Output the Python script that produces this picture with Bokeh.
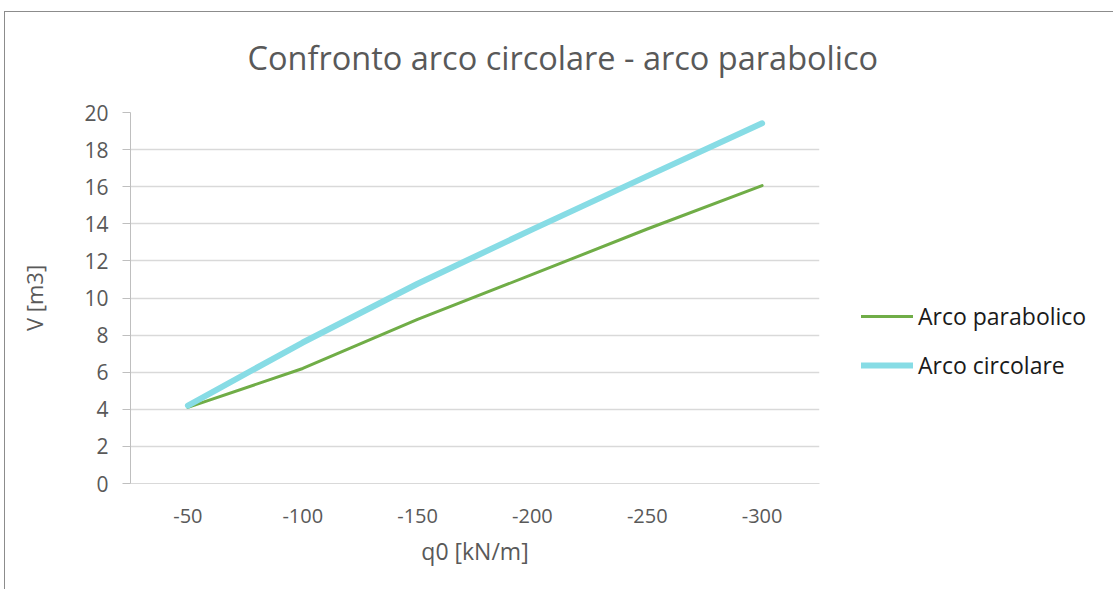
from bokeh.plotting import figure
from bokeh.models import FactorRange, Range1d, SingleIntervalTicker, Legend, LegendItem, ColumnDataSource
from bokeh.embed import file_html
from bokeh.resources import INLINE

categories = ["-50", "-100", "-150", "-200", "-250", "-300"]
arco_parabolico = [4.1, 6.2, 8.85, 11.27, 13.72, 16.06]
arco_circolare = [4.2, 7.6, 10.77, 13.7, 16.57, 19.42]

FONT = "Open Sans"
TXT = "#595959"

p = figure(
    x_range=FactorRange(*categories),
    y_range=Range1d(0, 20),
    width=1109, height=587,
    frame_width=689, frame_height=371,
    min_border_left=126, min_border_top=110, min_border_right=294, min_border_bottom=106,
    output_backend="svg", toolbar_location=None,
)
# chart-area border (top and left edges) drawn as CSS lines behind a transparent canvas
p.styles = {
    "margin-left": "4px", "margin-top": "2px",
    "background-image": "linear-gradient(#8c8c8c, #8c8c8c), linear-gradient(#8c8c8c, #8c8c8c)",
    "background-size": "100% 1px, 1px 100%",
    "background-position": "0 9px, 0 9px",
    "background-repeat": "no-repeat",
}
p.outline_line_color = None
p.background_fill_color = "white"
p.border_fill_color = None
p.border_fill_alpha = 0

p.title.text = "Confronto arco circolare - arco parabolico"
p.title.text_font = FONT
p.title.text_font_size = "32.5px"
p.title.text_font_style = "normal"
p.title.text_color = TXT
p.title.align = "left"
p.title.vertical_align = "top"
p.title.offset = 117
p.title.standoff = 62

src = ColumnDataSource(dict(x=categories, par=arco_parabolico, cir=arco_circolare))
r1 = p.line("x", "par", source=src, line_color="#70ad47", line_width=3, line_cap="round", line_join="round")
r2 = p.line("x", "cir", source=src, line_color="#87dce5", line_width=6, line_cap="round", line_join="round")

# y axis
p.yaxis.ticker = SingleIntervalTicker(interval=2)
p.yaxis.axis_line_color = "#bfbfbf"
p.yaxis.major_tick_line_color = "#bfbfbf"
p.yaxis.major_tick_out = 8
p.yaxis.major_tick_in = 0
p.yaxis.minor_tick_line_color = None
p.yaxis.major_label_text_font = FONT
p.yaxis.major_label_text_font_size = "21px"
p.yaxis.major_label_text_color = TXT
p.yaxis.major_label_standoff = 14
p.yaxis.axis_label = "V [m3]"
p.yaxis.axis_label_text_font = FONT
p.yaxis.axis_label_text_font_size = "22px"
p.yaxis.axis_label_text_font_style = "normal"
p.yaxis.axis_label_text_color = TXT
p.yaxis.axis_label_standoff = 32

# x axis
p.xaxis.axis_line_color = "#d9d9d9"
p.xaxis.major_tick_line_color = None
p.xaxis.minor_tick_line_color = None
p.xaxis.major_label_text_font = FONT
p.xaxis.major_label_text_font_size = "20px"
p.xaxis.major_label_text_color = TXT
p.xaxis.major_label_standoff = 19
p.xaxis.axis_label = "q0 [kN/m]"
p.xaxis.axis_label_text_font = FONT
p.xaxis.axis_label_text_font_size = "23px"
p.xaxis.axis_label_text_font_style = "normal"
p.xaxis.axis_label_text_color = TXT
p.xaxis.axis_label_standoff = 9

p.xgrid.grid_line_color = None
p.ygrid.grid_line_color = "#d9d9d9"
p.ygrid.grid_line_width = 1.5

legend = Legend(
    items=[LegendItem(label="Arco parabolico", renderers=[r1]),
           LegendItem(label="Arco circolare", renderers=[r2])],
    location=(42, 102),
    orientation="vertical",
    padding=0, margin=0, spacing=17,
    glyph_width=52, glyph_height=20, label_height=20, label_standoff=5,
    border_line_color=None, background_fill_alpha=0,
    label_text_font=FONT, label_text_font_size="23px", label_text_color="#1a1a1a",
)
p.add_layout(legend, "right")

open("out.html", "w").write(file_html(p, INLINE))
